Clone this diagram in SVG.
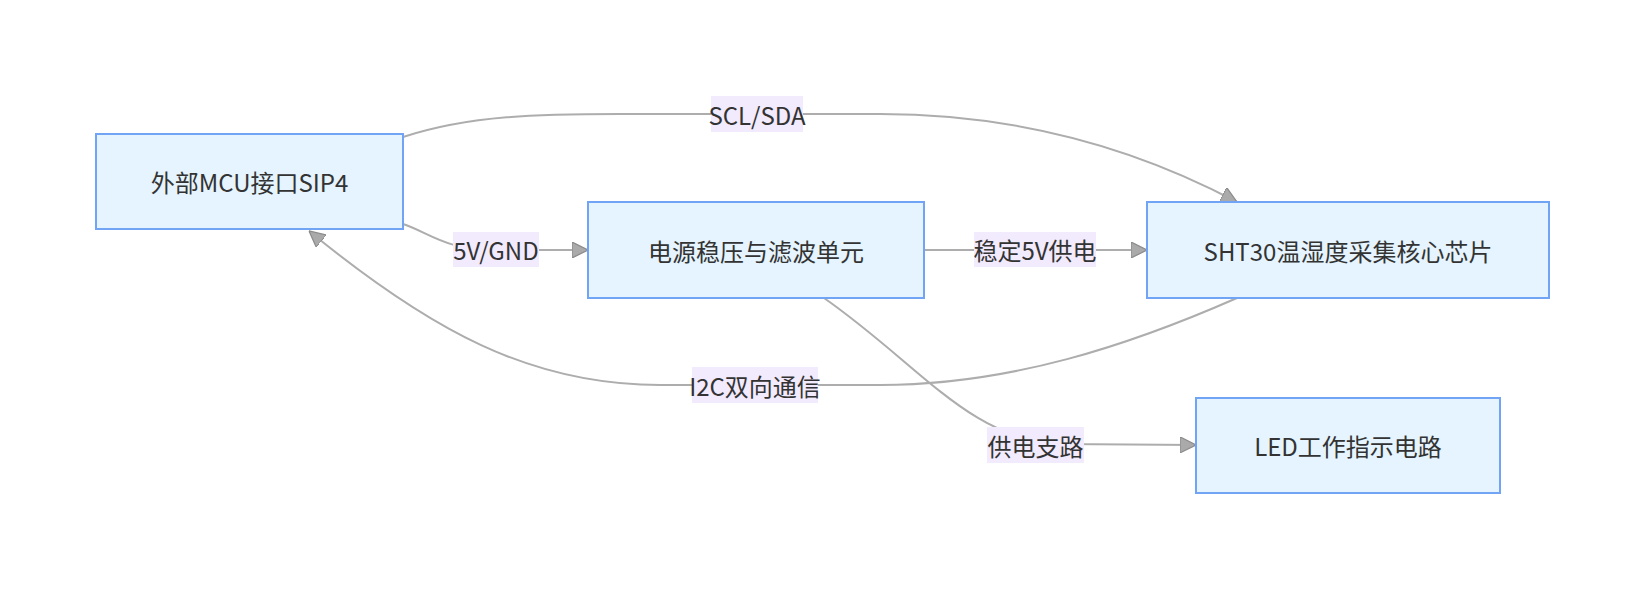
<svg xmlns="http://www.w3.org/2000/svg" width="1645" height="590" viewBox="0 0 1645 590">
<style>
.node rect{fill:#e5f4fe;stroke:#72a4f6;stroke-width:2}
text{font-family:"Trebuchet MS","Noto Sans CJK SC",sans-serif;font-size:24px;fill:#333;text-anchor:middle;dominant-baseline:central}
.edge{fill:none;stroke:#adadad;stroke-width:2}
.lbl rect{fill:#f2eafd}
</style>
<defs>
<marker id="arr" viewBox="0 0 10 10" refX="10" refY="5" markerWidth="16" markerHeight="16" markerUnits="userSpaceOnUse" orient="auto">
<path d="M0,0 L10,5 L0,10 z" fill="#aaa" stroke="#8c8c8c" stroke-width="0.8"/>
</marker>
</defs>
<rect width="1645" height="590" fill="#fff"/>
<g id="connectors">
<path class="edge" marker-end="url(#arr)" d="M403,224 C430,233 445,250 496,250 L588,250"/>
<path class="edge" marker-end="url(#arr)" d="M924,250 L1147,250"/>
<path class="edge" marker-end="url(#arr)" d="M403,137 C470,115 540,114 620,114 L880,114 C1000,114 1120,140 1237,202"/>
<path class="edge" marker-end="url(#arr)" d="M1237,298 C1130,345 1010,385 880,385 L660,385 C530,385 430,330 309,231"/>
<path class="edge" marker-end="url(#arr)" d="M824,298 C920,365 970,440 1060,444 L1196,445"/>
<g class="lbl"><rect x="453" y="232" width="86" height="35"/><text x="496" y="249.5">5V/GND</text></g>
<g class="lbl"><rect x="974" y="232" width="122" height="35"/><text x="1035" y="249.5">稳定5V供电</text></g>
<g class="lbl"><rect x="711" y="96" width="92" height="36"/><text x="757" y="114">SCL/SDA</text></g>
<g class="lbl"><rect x="692" y="367" width="126" height="36"/><text x="755" y="385">I2C双向通信</text></g>
<g class="lbl"><rect x="987" y="427" width="97" height="36"/><text x="1035.5" y="445">供电支路</text></g>
</g>
<g id="n1" class="node"><rect x="96" y="134" width="307" height="95"/><text x="249.5" y="181.5">外部MCU接口SIP4</text></g>
<g id="n2" class="node"><rect x="588" y="202" width="336" height="96"/><text x="756" y="250">电源稳压与滤波单元</text></g>
<g id="n3" class="node"><rect x="1147" y="202" width="402" height="96"/><text x="1348" y="250">SHT30温湿度采集核心芯片</text></g>
<g id="n4" class="node"><rect x="1196" y="398" width="304" height="95"/><text x="1348" y="445.5">LED工作指示电路</text></g>
</svg>
